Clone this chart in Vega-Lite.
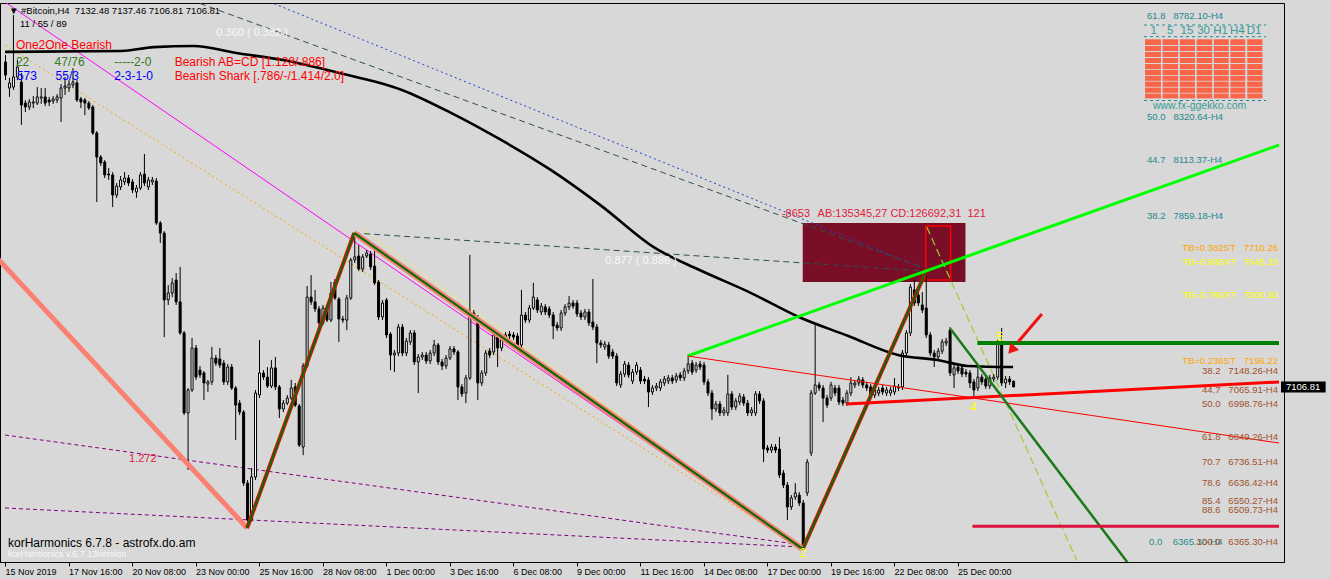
{
"$schema":"https://vega.github.io/schema/vega-lite/v6.json",
"width":1284,"height":559,"autosize":"none",
"padding":{"left":0,"top":3,"right":47,"bottom":17},
"background":"#d8d8d8",
"config":{"view":{"stroke":"#000000","strokeWidth":1},"font":"Liberation Sans"},
"datasets":{
"candles":[
{"i":0,"o":8594,"h":8626,"l":8511,"c":8534},{"i":1,"o":8475,"h":8521,"l":8434,"c":8498},{"i":2,"o":8479,"h":8809,"l":8466,"c":8525},{"i":3,"o":8525,"h":8603,"l":8511,"c":8571},{"i":4,"o":8502,"h":8544,"l":8306,"c":8397},{"i":5,"o":8406,"h":8420,"l":8365,"c":8388},{"i":6,"o":8388,"h":8425,"l":8374,"c":8411},{"i":7,"o":8406,"h":8438,"l":8383,"c":8411},{"i":8,"o":8406,"h":8479,"l":8397,"c":8434},{"i":9,"o":8429,"h":8475,"l":8402,"c":8434},
{"i":10,"o":8434,"h":8475,"l":8392,"c":8406},{"i":11,"o":8420,"h":8434,"l":8392,"c":8411},{"i":12,"o":8415,"h":8438,"l":8402,"c":8425},{"i":13,"o":8420,"h":8447,"l":8406,"c":8434},{"i":14,"o":8429,"h":8493,"l":8319,"c":8475},{"i":15,"o":8475,"h":8525,"l":8443,"c":8484},{"i":16,"o":8475,"h":8511,"l":8457,"c":8493},{"i":17,"o":8489,"h":8566,"l":8475,"c":8502},{"i":18,"o":8498,"h":8511,"l":8411,"c":8420},{"i":19,"o":8425,"h":8434,"l":8383,"c":8411},
{"i":20,"o":8420,"h":8429,"l":8351,"c":8406},{"i":21,"o":8406,"h":8415,"l":8374,"c":8383},{"i":22,"o":8388,"h":8397,"l":8260,"c":8269},{"i":23,"o":8269,"h":8278,"l":7953,"c":8159},{"i":24,"o":8159,"h":8168,"l":8118,"c":8132},{"i":25,"o":8136,"h":8145,"l":8063,"c":8077},{"i":26,"o":8081,"h":8109,"l":8054,"c":8077},{"i":27,"o":8077,"h":8090,"l":7930,"c":7985},{"i":28,"o":7985,"h":8040,"l":7972,"c":8026},{"i":29,"o":8022,"h":8072,"l":8008,"c":8054},
{"i":30,"o":8045,"h":8090,"l":8031,"c":8063},{"i":31,"o":8063,"h":8077,"l":8026,"c":8040},{"i":32,"o":8045,"h":8058,"l":7994,"c":8008},{"i":33,"o":7999,"h":8031,"l":7972,"c":8017},{"i":34,"o":8017,"h":8090,"l":8008,"c":8077},{"i":35,"o":8081,"h":8173,"l":8026,"c":8040},{"i":36,"o":8022,"h":8068,"l":8008,"c":8054},{"i":37,"o":8045,"h":8068,"l":8031,"c":8054},{"i":38,"o":8049,"h":8063,"l":7848,"c":7857},{"i":39,"o":7857,"h":7866,"l":7766,"c":7811},
{"i":40,"o":7811,"h":7820,"l":7335,"c":7505},{"i":41,"o":7505,"h":7573,"l":7482,"c":7537},{"i":42,"o":7537,"h":7605,"l":7518,"c":7583},{"i":43,"o":7596,"h":7628,"l":7482,"c":7496},{"i":44,"o":7496,"h":7656,"l":7345,"c":7354},{"i":45,"o":7354,"h":7363,"l":6978,"c":6988},{"i":46,"o":6988,"h":7102,"l":6727,"c":7093},{"i":47,"o":7093,"h":7331,"l":7084,"c":7285},{"i":48,"o":7285,"h":7299,"l":7139,"c":7152},{"i":49,"o":7184,"h":7203,"l":7148,"c":7162},
{"i":50,"o":7171,"h":7180,"l":7047,"c":7125},{"i":51,"o":7120,"h":7139,"l":7084,"c":7130},{"i":52,"o":7130,"h":7290,"l":7116,"c":7239},{"i":53,"o":7239,"h":7253,"l":7203,"c":7216},{"i":54,"o":7235,"h":7285,"l":7194,"c":7207},{"i":55,"o":7216,"h":7230,"l":7116,"c":7130},{"i":56,"o":7130,"h":7212,"l":7116,"c":7198},{"i":57,"o":7198,"h":7212,"l":7093,"c":7102},{"i":58,"o":7102,"h":7111,"l":6864,"c":7024},{"i":59,"o":7033,"h":7047,"l":6978,"c":6992},
{"i":60,"o":6992,"h":7001,"l":6654,"c":6667},{"i":61,"o":6667,"h":6681,"l":6461,"c":6498},{"i":62,"o":6498,"h":6736,"l":6489,"c":6695},{"i":63,"o":6695,"h":7093,"l":6681,"c":7079},{"i":64,"o":7070,"h":7322,"l":7056,"c":7171},{"i":65,"o":7171,"h":7184,"l":7139,"c":7152},{"i":66,"o":7152,"h":7198,"l":7102,"c":7111},{"i":67,"o":7111,"h":7230,"l":7102,"c":7194},{"i":68,"o":7194,"h":7244,"l":7093,"c":7107},{"i":69,"o":7107,"h":7116,"l":6965,"c":7006},
{"i":70,"o":7006,"h":7047,"l":6992,"c":7033},{"i":71,"o":7033,"h":7070,"l":7024,"c":7056},{"i":72,"o":7056,"h":7139,"l":7047,"c":7102},{"i":73,"o":7107,"h":7125,"l":7015,"c":7024},{"i":74,"o":7020,"h":7029,"l":6832,"c":6841},{"i":75,"o":6832,"h":7216,"l":6795,"c":7203},{"i":76,"o":7203,"h":7569,"l":7194,"c":7518},{"i":77,"o":7518,"h":7619,"l":7482,"c":7496},{"i":78,"o":7496,"h":7551,"l":7450,"c":7464},{"i":79,"o":7464,"h":7477,"l":7386,"c":7400},
{"i":80,"o":7400,"h":7482,"l":7390,"c":7468},{"i":81,"o":7468,"h":7482,"l":7404,"c":7413},{"i":82,"o":7413,"h":7587,"l":7404,"c":7537},{"i":83,"o":7587,"h":7601,"l":7505,"c":7514},{"i":84,"o":7509,"h":7518,"l":7313,"c":7418},{"i":85,"o":7418,"h":7432,"l":7400,"c":7413},{"i":86,"o":7413,"h":7528,"l":7367,"c":7514},{"i":87,"o":7514,"h":7697,"l":7505,"c":7688},{"i":88,"o":7688,"h":7811,"l":7674,"c":7702},{"i":89,"o":7706,"h":7756,"l":7637,"c":7647},
{"i":90,"o":7647,"h":7715,"l":7633,"c":7702},{"i":91,"o":7706,"h":7734,"l":7697,"c":7720},{"i":92,"o":7715,"h":7729,"l":7642,"c":7656},{"i":93,"o":7660,"h":7752,"l":7573,"c":7583},{"i":94,"o":7587,"h":7596,"l":7413,"c":7427},{"i":95,"o":7427,"h":7505,"l":7413,"c":7491},{"i":96,"o":7505,"h":7514,"l":7331,"c":7345},{"i":97,"o":7349,"h":7358,"l":7184,"c":7253},{"i":98,"o":7253,"h":7276,"l":7175,"c":7262},{"i":99,"o":7262,"h":7395,"l":7248,"c":7381},
{"i":100,"o":7381,"h":7395,"l":7248,"c":7262},{"i":101,"o":7262,"h":7331,"l":7248,"c":7317},{"i":102,"o":7313,"h":7367,"l":7299,"c":7354},{"i":103,"o":7354,"h":7367,"l":7207,"c":7221},{"i":104,"o":7221,"h":7258,"l":7079,"c":7244},{"i":105,"o":7244,"h":7267,"l":7230,"c":7253},{"i":106,"o":7253,"h":7267,"l":7212,"c":7226},{"i":107,"o":7226,"h":7276,"l":7212,"c":7262},{"i":108,"o":7262,"h":7322,"l":7248,"c":7299},{"i":109,"o":7299,"h":7308,"l":7207,"c":7221},
{"i":110,"o":7221,"h":7235,"l":7184,"c":7203},{"i":111,"o":7203,"h":7253,"l":7189,"c":7239},{"i":112,"o":7239,"h":7294,"l":7230,"c":7281},{"i":113,"o":7281,"h":7294,"l":7253,"c":7267},{"i":114,"o":7267,"h":7276,"l":7047,"c":7107},{"i":115,"o":7107,"h":7120,"l":7061,"c":7075},{"i":116,"o":7079,"h":7162,"l":7033,"c":7148},{"i":117,"o":7148,"h":7711,"l":7139,"c":7445},{"i":118,"o":7445,"h":7459,"l":7409,"c":7422},{"i":119,"o":7422,"h":7436,"l":7047,"c":7125},
{"i":120,"o":7125,"h":7184,"l":7111,"c":7171},{"i":121,"o":7171,"h":7276,"l":7157,"c":7262},{"i":122,"o":7271,"h":7285,"l":7239,"c":7253},{"i":123,"o":7267,"h":7358,"l":7253,"c":7345},{"i":124,"o":7335,"h":7349,"l":7198,"c":7285},{"i":125,"o":7285,"h":7335,"l":7271,"c":7322},{"i":126,"o":7322,"h":7358,"l":7308,"c":7345},{"i":127,"o":7349,"h":7363,"l":7326,"c":7340},{"i":128,"o":7345,"h":7358,"l":7322,"c":7335},{"i":129,"o":7340,"h":7354,"l":7281,"c":7294},
{"i":130,"o":7299,"h":7551,"l":7285,"c":7436},{"i":131,"o":7436,"h":7450,"l":7400,"c":7413},{"i":132,"o":7413,"h":7482,"l":7400,"c":7468},{"i":133,"o":7468,"h":7583,"l":7459,"c":7518},{"i":134,"o":7505,"h":7518,"l":7445,"c":7459},{"i":135,"o":7450,"h":7491,"l":7436,"c":7477},{"i":136,"o":7473,"h":7486,"l":7436,"c":7450},{"i":137,"o":7464,"h":7477,"l":7422,"c":7436},{"i":138,"o":7436,"h":7450,"l":7326,"c":7386},{"i":139,"o":7390,"h":7404,"l":7363,"c":7377},
{"i":140,"o":7377,"h":7459,"l":7363,"c":7445},{"i":141,"o":7445,"h":7486,"l":7432,"c":7473},{"i":142,"o":7473,"h":7523,"l":7459,"c":7491},{"i":143,"o":7491,"h":7505,"l":7464,"c":7477},{"i":144,"o":7491,"h":7505,"l":7427,"c":7441},{"i":145,"o":7445,"h":7459,"l":7413,"c":7427},{"i":146,"o":7427,"h":7464,"l":7413,"c":7450},{"i":147,"o":7450,"h":7464,"l":7386,"c":7400},{"i":148,"o":7404,"h":7601,"l":7367,"c":7381},{"i":149,"o":7381,"h":7395,"l":7216,"c":7308},
{"i":150,"o":7308,"h":7322,"l":7285,"c":7299},{"i":151,"o":7290,"h":7317,"l":7276,"c":7303},{"i":152,"o":7299,"h":7313,"l":7235,"c":7248},{"i":153,"o":7267,"h":7281,"l":7235,"c":7248},{"i":154,"o":7248,"h":7262,"l":7111,"c":7125},{"i":155,"o":7116,"h":7180,"l":7102,"c":7166},{"i":156,"o":7166,"h":7226,"l":7152,"c":7212},{"i":157,"o":7207,"h":7221,"l":7148,"c":7162},{"i":158,"o":7134,"h":7189,"l":7120,"c":7175},{"i":159,"o":7175,"h":7221,"l":7162,"c":7207},
{"i":160,"o":7184,"h":7198,"l":7120,"c":7134},{"i":161,"o":7143,"h":7157,"l":7120,"c":7134},{"i":162,"o":7139,"h":7152,"l":7015,"c":7084},{"i":163,"o":7084,"h":7116,"l":7070,"c":7102},{"i":164,"o":7102,"h":7125,"l":7088,"c":7111},{"i":165,"o":7102,"h":7143,"l":7088,"c":7130},{"i":166,"o":7125,"h":7157,"l":7111,"c":7143},{"i":167,"o":7134,"h":7162,"l":7120,"c":7148},{"i":168,"o":7148,"h":7162,"l":7120,"c":7134},{"i":169,"o":7139,"h":7171,"l":7125,"c":7157},
{"i":170,"o":7162,"h":7175,"l":7134,"c":7148},{"i":171,"o":7148,"h":7194,"l":7134,"c":7180},{"i":172,"o":7180,"h":7248,"l":7166,"c":7212},{"i":173,"o":7216,"h":7230,"l":7162,"c":7175},{"i":174,"o":7184,"h":7221,"l":7171,"c":7207},{"i":175,"o":7212,"h":7226,"l":7184,"c":7198},{"i":176,"o":7207,"h":7221,"l":7116,"c":7130},{"i":177,"o":7130,"h":7143,"l":7065,"c":7079},{"i":178,"o":7079,"h":7093,"l":6956,"c":7006},{"i":179,"o":7006,"h":7043,"l":6992,"c":7029},
{"i":180,"o":7029,"h":7043,"l":6974,"c":6988},{"i":181,"o":6988,"h":7015,"l":6974,"c":7001},{"i":182,"o":6988,"h":7162,"l":6974,"c":7075},{"i":183,"o":7075,"h":7088,"l":7001,"c":7015},{"i":184,"o":7015,"h":7056,"l":7001,"c":7043},{"i":185,"o":7038,"h":7079,"l":7024,"c":7065},{"i":186,"o":7061,"h":7075,"l":7020,"c":7033},{"i":187,"o":7033,"h":7047,"l":6974,"c":6988},{"i":188,"o":6988,"h":7015,"l":6974,"c":7001},{"i":189,"o":6988,"h":7088,"l":6974,"c":7075},
{"i":190,"o":7075,"h":7088,"l":7029,"c":7043},{"i":191,"o":7043,"h":7056,"l":6763,"c":6823},{"i":192,"o":6828,"h":6841,"l":6805,"c":6818},{"i":193,"o":6818,"h":6846,"l":6805,"c":6832},{"i":194,"o":6832,"h":6846,"l":6805,"c":6818},{"i":195,"o":6823,"h":6878,"l":6690,"c":6704},{"i":196,"o":6713,"h":6727,"l":6644,"c":6658},{"i":197,"o":6658,"h":6672,"l":6498,"c":6558},{"i":198,"o":6558,"h":6612,"l":6544,"c":6599},{"i":199,"o":6603,"h":6667,"l":6590,"c":6622},
{"i":200,"o":6612,"h":6626,"l":6562,"c":6576},{"i":201,"o":6576,"h":6590,"l":6365.3,"c":6370},{"i":202,"o":6622,"h":6777,"l":6608,"c":6763},{"i":203,"o":6805,"h":7093,"l":6791,"c":7079},{"i":204,"o":7079,"h":7390,"l":7070,"c":7116},{"i":205,"o":7116,"h":7130,"l":7088,"c":7102},{"i":206,"o":7102,"h":7116,"l":6946,"c":7056},{"i":207,"o":7056,"h":7070,"l":7011,"c":7024},{"i":208,"o":7056,"h":7130,"l":7043,"c":7116},{"i":209,"o":7102,"h":7116,"l":7065,"c":7079},
{"i":210,"o":7102,"h":7116,"l":7024,"c":7038},{"i":211,"o":7047,"h":7061,"l":7020,"c":7033},{"i":212,"o":7033,"h":7093,"l":7020,"c":7079},{"i":213,"o":7079,"h":7152,"l":7065,"c":7125},{"i":214,"o":7116,"h":7139,"l":7102,"c":7125},{"i":215,"o":7125,"h":7157,"l":7111,"c":7143},{"i":216,"o":7139,"h":7152,"l":7102,"c":7116},{"i":217,"o":7116,"h":7130,"l":7088,"c":7102},{"i":218,"o":7107,"h":7120,"l":7056,"c":7070},{"i":219,"o":7070,"h":7107,"l":7056,"c":7093},
{"i":220,"o":7079,"h":7107,"l":7065,"c":7093},{"i":221,"o":7102,"h":7116,"l":7070,"c":7084},{"i":222,"o":7079,"h":7107,"l":7065,"c":7093},{"i":223,"o":7079,"h":7107,"l":7065,"c":7093},{"i":224,"o":7084,"h":7148,"l":7070,"c":7111},{"i":225,"o":7107,"h":7120,"l":7088,"c":7102},{"i":226,"o":7107,"h":7276,"l":7093,"c":7262},{"i":227,"o":7262,"h":7367,"l":7248,"c":7354},{"i":228,"o":7354,"h":7578,"l":7340,"c":7564},{"i":229,"o":7551,"h":7596,"l":7477,"c":7491},
{"i":230,"o":7528,"h":7541,"l":7477,"c":7491},{"i":231,"o":7482,"h":7541,"l":7445,"c":7459},{"i":232,"o":7468,"h":7633,"l":7331,"c":7345},{"i":233,"o":7345,"h":7358,"l":7248,"c":7262},{"i":234,"o":7262,"h":7276,"l":7198,"c":7244},{"i":235,"o":7244,"h":7285,"l":7230,"c":7271},{"i":236,"o":7271,"h":7326,"l":7258,"c":7313},{"i":237,"o":7308,"h":7331,"l":7294,"c":7317},{"i":238,"o":7367,"h":7381,"l":7157,"c":7171},{"i":239,"o":7162,"h":7207,"l":7102,"c":7194},
{"i":240,"o":7198,"h":7212,"l":7166,"c":7180},{"i":241,"o":7194,"h":7207,"l":7152,"c":7166},{"i":242,"o":7175,"h":7189,"l":7152,"c":7166},{"i":243,"o":7171,"h":7184,"l":7102,"c":7125},{"i":244,"o":7130,"h":7143,"l":7056,"c":7093},{"i":245,"o":7102,"h":7198,"l":7088,"c":7152},{"i":246,"o":7152,"h":7166,"l":7116,"c":7130},{"i":247,"o":7143,"h":7157,"l":7098,"c":7111},{"i":248,"o":7111,"h":7162,"l":7098,"c":7148},{"i":249,"o":7143,"h":7166,"l":7130,"c":7152},
{"i":250,"o":7152,"h":7322,"l":7139,"c":7303},{"i":251,"o":7308,"h":7377,"l":7111,"c":7125},{"i":252,"o":7125,"h":7157,"l":7102,"c":7143},{"i":253,"o":7143,"h":7157,"l":7116,"c":7130},{"i":254,"o":7132.48,"h":7137.46,"l":7106.81,"c":7106.81}
],
"ma":[{"i":0,"p":8640},{"i":29.25,"p":8644},{"i":37.5,"p":8662},{"i":47.5,"p":8667},{"i":58.25,"p":8635},{"i":70,"p":8603},{"i":83.25,"p":8548},{"i":100,"p":8466},{"i":112.5,"p":8360},{"i":125,"p":8237},{"i":137.5,"p":8100},{"i":150,"p":7939},{"i":163.75,"p":7743},{"i":175,"p":7642},{"i":187.5,"p":7541},{"i":200,"p":7427},{"i":212.5,"p":7340},{"i":225,"p":7253},{"i":235,"p":7230},{"i":242.5,"p":7203},{"i":254,"p":7198}],
"teal":[{"p":8782.10},{"p":8320.64},{"p":8113.37},{"p":7859.18},{"p":6365.30}],
"brown":[{"p":7632},{"p":7148.26},{"p":7065.91},{"p":6998.76},{"p":6849.26},{"p":6736.51},{"p":6636.42},{"p":6550.27},{"p":6509.73},{"p":6365.30}],
"orange":[{"p":7710.26},{"p":7196.22}],
"yellow":[{"p":7645.29},{"p":7500.82}],
"segs":[
{"n":"salmon","i":-5,"p":7756,"i2":61,"p2":6461.4},
{"n":"xa","i":61,"p":6461.4,"i2":88,"p2":7811.3},
{"n":"ad","i":88,"p":7811.3,"i2":201,"p2":6365.3},
{"n":"dc","i":201,"p":6365.3,"i2":232,"p2":7632.8},
{"n":"lime","i":172,"p":7248.4,"i2":321,"p2":8214},
{"n":"redthin","i":172,"p":7248.4,"i2":321,"p2":6850.3},
{"n":"redthick","i":212,"p":7028.8,"i2":321,"p2":7129.5},
{"n":"dkgreen","i":238.25,"p":7372,"i2":282.75,"p2":6306},
{"n":"ygdash","i":232.25,"p":7838.8,"i2":270,"p2":6315},
{"n":"magenta","i":0,"p":8868,"i2":201,"p2":6365.3},
{"n":"orgdot","i":0,"p":8671.6,"i2":201,"p2":6365.3},
{"n":"yeldot","i":90,"p":7830,"i2":201,"p2":6365.3},
{"n":"purp","i":0,"p":6887,"i2":201,"p2":6383.6},
{"n":"purp","i":0,"p":6553,"i2":201,"p2":6374.4},
{"n":"navy","i":65.5,"p":8877.5,"i2":231.25,"p2":7651},
{"n":"slate","i":46.75,"p":8877.5,"i2":231,"p2":7655},
{"n":"slate","i":88,"p":7811.3,"i2":232,"p2":7637},
{"n":"greenh","i":245,"p":7308,"i2":321,"p2":7308},
{"n":"crimh","i":243.75,"p":6469.8,"i2":321,"p2":6469.8},
{"n":"arrow","i":261.25,"p":7440.6,"i2":255.25,"p2":7312.5},
{"n":"sep","i":287,"p":8763.1,"i2":317.75,"p2":8763.1},
{"n":"sep","i":287,"p":8709.6,"i2":317.75,"p2":8709.6},
{"n":"sep","i":287,"p":8417.6,"i2":317.75,"p2":8417.6}
],
"boxes":[
{"n":"box","i":201,"p":7857,"i2":242,"p2":7587},
{"n":"outline","i":232,"p":7843.3,"i2":238.25,"p2":7596.2},
{"n":"tag","i":321.5,"p":7131.8,"i2":332.75,"p2":7081.4}
],
"cells":[
{"i":287.25,"i2":291.25,"p":[8697.7,8667.0,8639.5,8612.1,8584.6,8558.1,8530.6,8504.1,8476.6,8449.2],"p2":[8671.6,8644.1,8616.7,8589.2,8561.8,8534.3,8507.8,8480.3,8452.9,8427.3]},
{"i":291.67,"i2":295.58,"p":[8697.7,8667.0,8639.5,8612.1,8584.6,8558.1,8530.6,8504.1,8476.6,8449.2],"p2":[8671.6,8644.1,8616.7,8589.2,8561.8,8534.3,8507.8,8480.3,8452.9,8427.3]},
{"i":296,"i2":299.83,"p":[8697.7,8667.0,8639.5,8612.1,8584.6,8558.1,8530.6,8504.1,8476.6,8449.2],"p2":[8671.6,8644.1,8616.7,8589.2,8561.8,8534.3,8507.8,8480.3,8452.9,8427.3]},
{"i":300.25,"i2":304.17,"p":[8697.7,8667.0,8639.5,8612.1,8584.6,8558.1,8530.6,8504.1,8476.6,8449.2],"p2":[8671.6,8644.1,8616.7,8589.2,8561.8,8534.3,8507.8,8480.3,8452.9,8427.3]},
{"i":304.58,"i2":308.33,"p":[8697.7,8667.0,8639.5,8612.1,8584.6,8558.1,8530.6,8504.1,8476.6,8449.2],"p2":[8671.6,8644.1,8616.7,8589.2,8561.8,8534.3,8507.8,8480.3,8452.9,8427.3]},
{"i":308.75,"i2":312.5,"p":[8697.7,8667.0,8639.5,8612.1,8584.6,8558.1,8530.6,8504.1,8476.6,8449.2],"p2":[8671.6,8644.1,8616.7,8589.2,8561.8,8534.3,8507.8,8480.3,8452.9,8427.3]},
{"i":313,"i2":316.83,"p":[8697.7,8667.0,8639.5,8612.1,8584.6,8558.1,8530.6,8504.1,8476.6,8449.2],"p2":[8671.6,8644.1,8616.7,8589.2,8561.8,8534.3,8507.8,8480.3,8452.9,8427.3]}
],
"labels":[
{"g":"hdr","i":1,"p":8827,"t":"▼ #Bitcoin,H4\u00a0\u00a07132.48 7137.46 7106.81 7106.81"},
{"g":"hdr","i":3.75,"p":8767.7,"t":"11 / 55 / 89"},
{"g":"red","i":2.75,"p":8673.9,"t":"One2One Bearish"},
{"g":"red","i":42.75,"p":8594,"t":"Bearish AB=CD [1.128/.886]"},
{"g":"red","i":42.75,"p":8527.5,"t":"Bearish Shark [.786/-/1.414/2.0]"},
{"g":"grn","i":2.75,"p":8594,"t":"22"},
{"g":"grn","i":12.5,"p":8594,"t":"47/76"},
{"g":"grn","i":27.5,"p":8594,"t":"-----2-0"},
{"g":"blu","i":3,"p":8527.5,"t":"573"},
{"g":"blu","i":12.75,"p":8527.5,"t":"55/3"},
{"g":"blu","i":27.5,"p":8527.5,"t":"2-3-1-0"},
{"g":"wht","i":53.25,"p":8726.5,"t":"0.360 ( 0.382 )"},
{"g":"wht","i":151.25,"p":7683,"t":"0.877 ( 0.886 )"},
{"g":"crim","i":195.75,"p":7898,"t":"-8653"},
{"g":"crim","i":204.75,"p":7898,"t":"AB:135345,27 CD:126692,31"},
{"g":"crim","i":242.5,"p":7898,"t":"121"},
{"g":"crim","i":31.25,"p":6779.4,"t":"1.272"},
{"g":"kor","i":0.75,"p":6394,"t":"korHarmonics 6.7.8 - astrofx.do.am"},
{"g":"korw","i":0.75,"p":6341,"t":"korHarmonics v.6.7.13version"},
{"g":"teal","i":287.75,"p":8804.3,"t":"61.8\u00a0\u00a0\u00a08782.10-H4"},
{"g":"teal","i":287.75,"p":8342,"t":"50.0\u00a0\u00a0\u00a08320.64-H4"},
{"g":"teal","i":287.75,"p":8145.3,"t":"44.7\u00a0\u00a0\u00a08113.37-H4"},
{"g":"teal","i":287.75,"p":7889.1,"t":"38.2\u00a0\u00a0\u00a07859.18-H4"},
{"g":"teal","i":288.25,"p":6397.3,"t":"0.0\u00a0\u00a0\u00a0\u00a06365.30-H4"},
{"g":"tealc","i":289.4,"p":8735.6,"t":"1"},
{"g":"tealc","i":293.6,"p":8735.6,"t":"5"},
{"g":"tealc","i":297.8,"p":8735.6,"t":"15"},
{"g":"tealc","i":302.0,"p":8735.6,"t":"30"},
{"g":"tealc","i":306.3,"p":8735.6,"t":"H1"},
{"g":"tealc","i":310.5,"p":8735.6,"t":"H4"},
{"g":"tealc","i":314.7,"p":8735.6,"t":"D1"},
{"g":"tealw","i":301,"p":8394,"t":"www.fx-ggekko.com"},
{"g":"orng","i":320.75,"p":7745,"t":"TB=0.382ST\u00a0\u00a0\u00a07710.26"},
{"g":"orng","i":320.75,"p":7227.8,"t":"TB=0.236ST\u00a0\u00a0\u00a07196.22"},
{"g":"yelr","i":320.75,"p":7678.6,"t":"TB=0.886XT\u00a0\u00a0\u00a07645.29"},
{"g":"yelr","i":320.75,"p":7527.6,"t":"TB=0.786XT\u00a0\u00a0\u00a07500.82"},
{"g":"brwn","i":320.75,"p":7179.8,"t":"38.2\u00a0\u00a0\u00a07148.26-H4"},
{"g":"brwn","i":320.75,"p":7092.9,"t":"44.7\u00a0\u00a0\u00a07065.91-H4"},
{"g":"brwn","i":320.75,"p":7028.8,"t":"50.0\u00a0\u00a0\u00a06998.76-H4"},
{"g":"brwn","i":320.75,"p":6880.1,"t":"61.8\u00a0\u00a0\u00a06849.26-H4"},
{"g":"brwn","i":320.75,"p":6765.7,"t":"70.7\u00a0\u00a0\u00a06736.51-H4"},
{"g":"brwn","i":320.75,"p":6669.6,"t":"78.6\u00a0\u00a0\u00a06636.42-H4"},
{"g":"brwn","i":320.75,"p":6584.9,"t":"85.4\u00a0\u00a0\u00a06550.27-H4"},
{"g":"brwn","i":320.75,"p":6546.0,"t":"88.6\u00a0\u00a0\u00a06509.73-H4"},
{"g":"brwn","i":320.75,"p":6397.3,"t":"100.0\u00a0\u00a0\u00a06365.30-H4"},
{"g":"yel","i":201,"p":6346.9,"t":"2"},
{"g":"yel","i":244,"p":7015.1,"t":"4"},
{"g":"yel","i":250.75,"p":7335.4,"t":"5"},
{"g":"tag","i":322.75,"p":7106.81,"t":"7106.81"}
],
"arrowhead":[{"i":253.6,"p":7276}]
},
"encoding":{
"x":{"field":"i","type":"quantitative","scale":{"domain":[0,321],"nice":false,"zero":false},
"axis":{"title":null,"orient":"bottom","values":[0,16,32,48,64,80,96,112,128,144,160,176,192,208,224,240],
"labelExpr":"['15 Nov 2019','17 Nov 16:00','20 Nov 08:00','23 Nov 00:00','25 Nov 16:00','28 Nov 08:00','1 Dec 00:00','3 Dec 16:00','6 Dec 08:00','9 Dec 00:00','11 Dec 16:00','14 Dec 08:00','17 Dec 00:00','19 Dec 16:00','22 Dec 08:00','25 Dec 00:00'][round(datum.value/16)]",
"labelAlign":"left","labelDx":1,"labelPadding":1,"labelFont":"Liberation Sans","labelFontSize":9,"labelColor":"#000000","labelFlush":false,"labelOverlap":false,"labelBound":false,
"tickColor":"#000000","tickSize":4,"domainColor":"#000000","grid":false}},
"y":{"field":"p","type":"quantitative","scale":{"domain":[6305.9,8863.8],"nice":false,"zero":false},
"axis":{"title":null,"orient":"right","values":[8740.25,8585.55,8435.40,8285.25,8135.10,7980.40,7830.25,7680.10,7529.95,7375.25,7225.10,7074.95,6924.80,6770.10,6619.95,6469.80,6319.65],
"format":".2f","labelFont":"Liberation Sans","labelFontSize":9.5,"labelColor":"#000000","labelPadding":2,"labelOverlap":false,"labelFlush":false,
"tickColor":"#000000","tickSize":4,"domainColor":"#000000","grid":false}}
},
"layer":[
{"data":{"name":"boxes"},"transform":[{"filter":"datum.n=='box'"}],"mark":{"type":"rect","color":"#7a0e26","clip":true},"encoding":{"x2":{"field":"i2"},"y2":{"field":"p2"}}},
{"data":{"name":"teal"},"mark":{"type":"rule","color":"#1f8a8a","strokeDash":[3,3],"strokeWidth":1},"encoding":{"x":{"datum":0},"x2":{"datum":321}}},
{"data":{"name":"orange"},"mark":{"type":"rule","color":"#ffa500","strokeWidth":1.2},"encoding":{"x":{"datum":0},"x2":{"datum":321}}},
{"data":{"name":"yellow"},"mark":{"type":"rule","color":"#ffff00","strokeWidth":1.5},"encoding":{"x":{"datum":93},"x2":{"datum":321}}},
{"data":{"name":"brown"},"mark":{"type":"rule","color":"#a0522d","strokeDash":[4,2],"strokeWidth":1},"encoding":{"x":{"datum":201},"x2":{"datum":321}}},
{"data":{"name":"segs"},"transform":[{"filter":"datum.n=='purp'"}],"mark":{"type":"rule","color":"#800080","strokeDash":[4,3],"strokeWidth":1,"clip":true},"encoding":{"x2":{"field":"i2"},"y2":{"field":"p2"}}},
{"data":{"name":"segs"},"transform":[{"filter":"datum.n=='magenta'"}],"mark":{"type":"rule","color":"#ff00ff","strokeWidth":1,"clip":true},"encoding":{"x2":{"field":"i2"},"y2":{"field":"p2"}}},
{"data":{"name":"segs"},"transform":[{"filter":"datum.n=='orgdot'"}],"mark":{"type":"rule","color":"#ffa500","strokeDash":[2,3],"strokeWidth":1,"clip":true},"encoding":{"x2":{"field":"i2"},"y2":{"field":"p2"}}},
{"data":{"name":"segs"},"transform":[{"filter":"datum.n=='yeldot'"}],"mark":{"type":"rule","color":"#ffff00","strokeDash":[2,3],"strokeWidth":1,"clip":true},"encoding":{"x2":{"field":"i2"},"y2":{"field":"p2"}}},
{"data":{"name":"segs"},"transform":[{"filter":"datum.n=='navy'"}],"mark":{"type":"rule","color":"#2040c0","strokeDash":[2,3],"strokeWidth":1,"clip":true},"encoding":{"x2":{"field":"i2"},"y2":{"field":"p2"}}},
{"data":{"name":"segs"},"transform":[{"filter":"datum.n=='slate'"}],"mark":{"type":"rule","color":"#2f4f4f","strokeDash":[6,4],"strokeWidth":1,"clip":true},"encoding":{"x2":{"field":"i2"},"y2":{"field":"p2"}}},
{"data":{"name":"segs"},"transform":[{"filter":"datum.n=='ygdash'"}],"mark":{"type":"rule","color":"#9acd32","strokeDash":[8,4],"strokeWidth":1.2,"clip":true},"encoding":{"x2":{"field":"i2"},"y2":{"field":"p2"}}},
{"data":{"name":"boxes"},"transform":[{"filter":"datum.n=='outline'"}],"mark":{"type":"rect","fill":null,"fillOpacity":0,"stroke":"#ff0000","strokeWidth":1.5},"encoding":{"x2":{"field":"i2"},"y2":{"field":"p2"}}},
{"data":{"name":"candles"},"mark":{"type":"rule","color":"#000000","strokeWidth":1,"xOffset":0.5},"encoding":{"y":{"field":"l","type":"quantitative","axis":null,"scale":{"domain":[6305.9,8863.8],"nice":false,"zero":false}},"y2":{"field":"h"}}},
{"data":{"name":"candles"},"mark":{"type":"bar","width":2,"stroke":"#000000","strokeWidth":1,"xOffset":0.5},"encoding":{"y":{"field":"o","type":"quantitative","axis":null,"scale":{"domain":[6305.9,8863.8],"nice":false,"zero":false}},"y2":{"field":"c"},"fill":{"condition":{"test":"datum.c>datum.o","value":"#ffffff"},"value":"#000000"}}},
{"data":{"name":"ma"},"mark":{"type":"line","color":"#000000","strokeWidth":2.6,"interpolate":"monotone"},"encoding":{}},
{"data":{"name":"segs"},"transform":[{"filter":"datum.n=='salmon'"}],"mark":{"type":"rule","color":"#fa8072","strokeWidth":5,"clip":true},"encoding":{"x2":{"field":"i2"},"y2":{"field":"p2"}}},
{"data":{"name":"segs"},"transform":[{"filter":"datum.n=='xa'||datum.n=='dc'"}],"mark":{"type":"rule","color":"#ff0000","strokeWidth":4},"encoding":{"x2":{"field":"i2"},"y2":{"field":"p2"}}},
{"data":{"name":"segs"},"transform":[{"filter":"datum.n=='ad'"}],"mark":{"type":"rule","color":"#fa8072","strokeWidth":6},"encoding":{"x2":{"field":"i2"},"y2":{"field":"p2"}}},
{"data":{"name":"segs"},"transform":[{"filter":"datum.n=='xa'||datum.n=='dc'||datum.n=='ad'"}],"mark":{"type":"rule","color":"#0a6a0a","strokeWidth":2.2},"encoding":{"x2":{"field":"i2"},"y2":{"field":"p2"}}},
{"data":{"name":"segs"},"transform":[{"filter":"datum.n=='lime'"}],"mark":{"type":"rule","color":"#00ff00","strokeWidth":3},"encoding":{"x2":{"field":"i2"},"y2":{"field":"p2"}}},
{"data":{"name":"segs"},"transform":[{"filter":"datum.n=='redthin'"}],"mark":{"type":"rule","color":"#ff0000","strokeWidth":1},"encoding":{"x2":{"field":"i2"},"y2":{"field":"p2"}}},
{"data":{"name":"segs"},"transform":[{"filter":"datum.n=='redthick'"}],"mark":{"type":"rule","color":"#ff0000","strokeWidth":3},"encoding":{"x2":{"field":"i2"},"y2":{"field":"p2"}}},
{"data":{"name":"segs"},"transform":[{"filter":"datum.n=='dkgreen'"}],"mark":{"type":"rule","color":"#1a7a1a","strokeWidth":2.5,"clip":true},"encoding":{"x2":{"field":"i2"},"y2":{"field":"p2"}}},
{"data":{"name":"segs"},"transform":[{"filter":"datum.n=='greenh'"}],"mark":{"type":"rule","color":"#008000","strokeWidth":4},"encoding":{"x2":{"field":"i2"},"y2":{"field":"p2"}}},
{"data":{"name":"segs"},"transform":[{"filter":"datum.n=='crimh'"}],"mark":{"type":"rule","color":"#dc143c","strokeWidth":3},"encoding":{"x2":{"field":"i2"},"y2":{"field":"p2"}}},
{"data":{"name":"segs"},"transform":[{"filter":"datum.n=='arrow'"}],"mark":{"type":"rule","color":"#f01010","strokeWidth":3},"encoding":{"x2":{"field":"i2"},"y2":{"field":"p2"}}},
{"data":{"name":"arrowhead"},"mark":{"type":"point","shape":"triangle-down","angle":40,"size":130,"filled":true,"color":"#f01010","opacity":1},"encoding":{}},
{"data":{"name":"cells"},"transform":[{"flatten":["p","p2"]}],"mark":{"type":"rect","color":"#fa6448"},"encoding":{"x2":{"field":"i2"},"y2":{"field":"p2"}}},
{"data":{"name":"segs"},"transform":[{"filter":"datum.n=='sep'"}],"mark":{"type":"rule","color":"#1f8a8a","strokeDash":[3,3],"strokeWidth":1},"encoding":{"x2":{"field":"i2"},"y2":{"field":"p2"}}},
{"data":{"name":"labels"},"transform":[{"filter":"datum.g=='hdr'"}],"mark":{"type":"text","align":"left","baseline":"middle","fontSize":9.5,"color":"#000000"},"encoding":{"text":{"field":"t"}}},
{"data":{"name":"labels"},"transform":[{"filter":"datum.g=='red'"}],"mark":{"type":"text","align":"left","baseline":"middle","fontSize":12,"color":"#ff0000"},"encoding":{"text":{"field":"t"}}},
{"data":{"name":"labels"},"transform":[{"filter":"datum.g=='grn'"}],"mark":{"type":"text","align":"left","baseline":"middle","fontSize":12,"color":"#2f7a23"},"encoding":{"text":{"field":"t"}}},
{"data":{"name":"labels"},"transform":[{"filter":"datum.g=='blu'"}],"mark":{"type":"text","align":"left","baseline":"middle","fontSize":12,"color":"#0000ff"},"encoding":{"text":{"field":"t"}}},
{"data":{"name":"labels"},"transform":[{"filter":"datum.g=='wht'"}],"mark":{"type":"text","align":"left","baseline":"middle","fontSize":11,"color":"#f8f8f8"},"encoding":{"text":{"field":"t"}}},
{"data":{"name":"labels"},"transform":[{"filter":"datum.g=='crim'"}],"mark":{"type":"text","align":"left","baseline":"middle","fontSize":11,"color":"#e0203c"},"encoding":{"text":{"field":"t"}}},
{"data":{"name":"labels"},"transform":[{"filter":"datum.g=='kor'"}],"mark":{"type":"text","align":"left","baseline":"middle","fontSize":12,"color":"#000000"},"encoding":{"text":{"field":"t"}}},
{"data":{"name":"labels"},"transform":[{"filter":"datum.g=='korw'"}],"mark":{"type":"text","align":"left","baseline":"middle","fontSize":9,"color":"#f8f8f8"},"encoding":{"text":{"field":"t"}}},
{"data":{"name":"labels"},"transform":[{"filter":"datum.g=='teal'"}],"mark":{"type":"text","align":"left","baseline":"middle","fontSize":9.5,"color":"#1f8a8a"},"encoding":{"text":{"field":"t"}}},
{"data":{"name":"labels"},"transform":[{"filter":"datum.g=='tealc'"}],"mark":{"type":"text","align":"center","baseline":"middle","fontSize":11.5,"color":"#3a9a9a"},"encoding":{"text":{"field":"t"}}},
{"data":{"name":"labels"},"transform":[{"filter":"datum.g=='tealw'"}],"mark":{"type":"text","align":"center","baseline":"middle","fontSize":10.5,"color":"#3a9a9a"},"encoding":{"text":{"field":"t"}}},
{"data":{"name":"labels"},"transform":[{"filter":"datum.g=='orng'"}],"mark":{"type":"text","align":"right","baseline":"middle","fontSize":9.5,"color":"#ffa500"},"encoding":{"text":{"field":"t"}}},
{"data":{"name":"labels"},"transform":[{"filter":"datum.g=='yelr'"}],"mark":{"type":"text","align":"right","baseline":"middle","fontSize":9.5,"color":"#ffff00"},"encoding":{"text":{"field":"t"}}},
{"data":{"name":"labels"},"transform":[{"filter":"datum.g=='brwn'"}],"mark":{"type":"text","align":"right","baseline":"middle","fontSize":9.5,"color":"#a0522d"},"encoding":{"text":{"field":"t"}}},
{"data":{"name":"labels"},"transform":[{"filter":"datum.g=='yel'"}],"mark":{"type":"text","align":"center","baseline":"middle","fontSize":12,"color":"#ffff00"},"encoding":{"text":{"field":"t"}}},
{"data":{"name":"boxes"},"transform":[{"filter":"datum.n=='tag'"}],"mark":{"type":"rect","color":"#000000"},"encoding":{"x2":{"field":"i2"},"y2":{"field":"p2"}}},
{"data":{"name":"labels"},"transform":[{"filter":"datum.g=='tag'"}],"mark":{"type":"text","align":"left","baseline":"middle","fontSize":9.5,"color":"#ffffff"},"encoding":{"text":{"field":"t"}}}
]
}
